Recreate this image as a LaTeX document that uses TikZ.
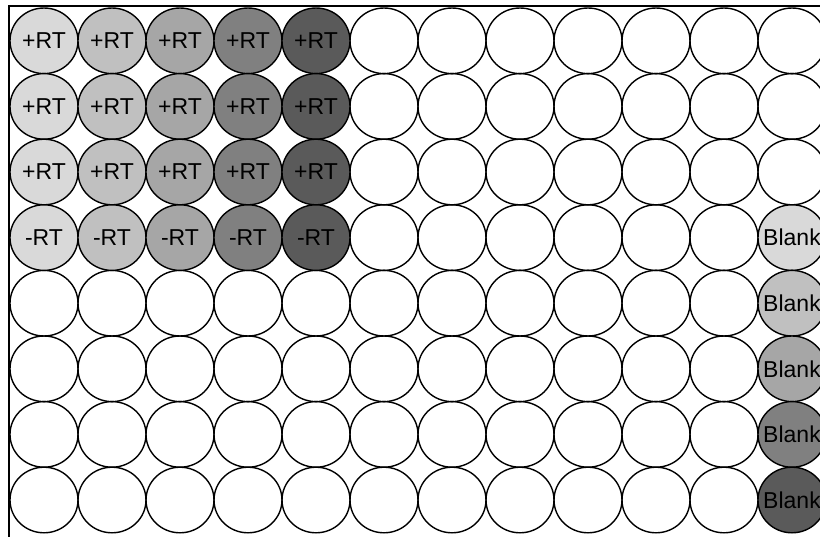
\documentclass[tikz,border=0pt]{standalone}
\usepackage{fontspec}
\setmainfont{Liberation Sans}
\usetikzlibrary{shapes.geometric}
\definecolor{shadeA}{HTML}{D9D9D9}
\definecolor{shadeB}{HTML}{C0C0C0}
\definecolor{shadeC}{HTML}{A6A6A6}
\definecolor{shadeD}{HTML}{808080}
\definecolor{shadeE}{HTML}{5A5A5A}
\tikzset{
  well/.style={draw, ellipse, line width=1.4pt, minimum width=68pt,
    minimum height=65.6pt, inner sep=0pt, font=\fontsize{23}{26}\selectfont},
  plate/.style={line width=2.4pt}
}

\begin{document}
\begin{tikzpicture}[x=1pt, y=-1pt]
    \useasboundingbox (0,0) rectangle (820,536);
    \clip (0,0) rectangle (820,536);
    % empty wells
    \foreach \r in {1,...,4}
      \foreach \c in {6,...,11}
        \node[well] (w\r-\c) at ({10+68*(\c-0.5)},{8+65.6*(\r-0.5)}) {};
    \foreach \r in {5,...,8}
      \foreach \c in {1,...,11}
        \node[well] (w\r-\c) at ({10+68*(\c-0.5)},{8+65.6*(\r-0.5)}) {};
    \foreach \r in {1,...,3}
      \node[well] (w\r-12) at ({10+68*11.5},{8+65.6*(\r-0.5)}) {};
    % samples
    \foreach \c/\shade in {1/shadeA, 2/shadeB, 3/shadeC, 4/shadeD, 5/shadeE} {
      \foreach \r in {1,...,3}
        \node[well, fill=\shade] (w\r-\c) at ({10+68*(\c-0.5)},{8+65.6*(\r-0.5)}) {+RT};
      \node[well, fill=\shade] (w4-\c) at ({10+68*(\c-0.5)},{8+65.6*3.5}) {-RT};
    }
    % blanks
    \foreach \r/\shade in {4/shadeA, 5/shadeB, 6/shadeC, 7/shadeD, 8/shadeE}
      \node[well, fill=\shade] (w\r-12) at ({10+68*11.5},{8+65.6*(\r-0.5)}) {\makebox[0pt]{Blank}};
    % plate edge
    \draw[plate] (9,545) -- (9,6) -- (830,6);
  \end{tikzpicture}
\end{document}
